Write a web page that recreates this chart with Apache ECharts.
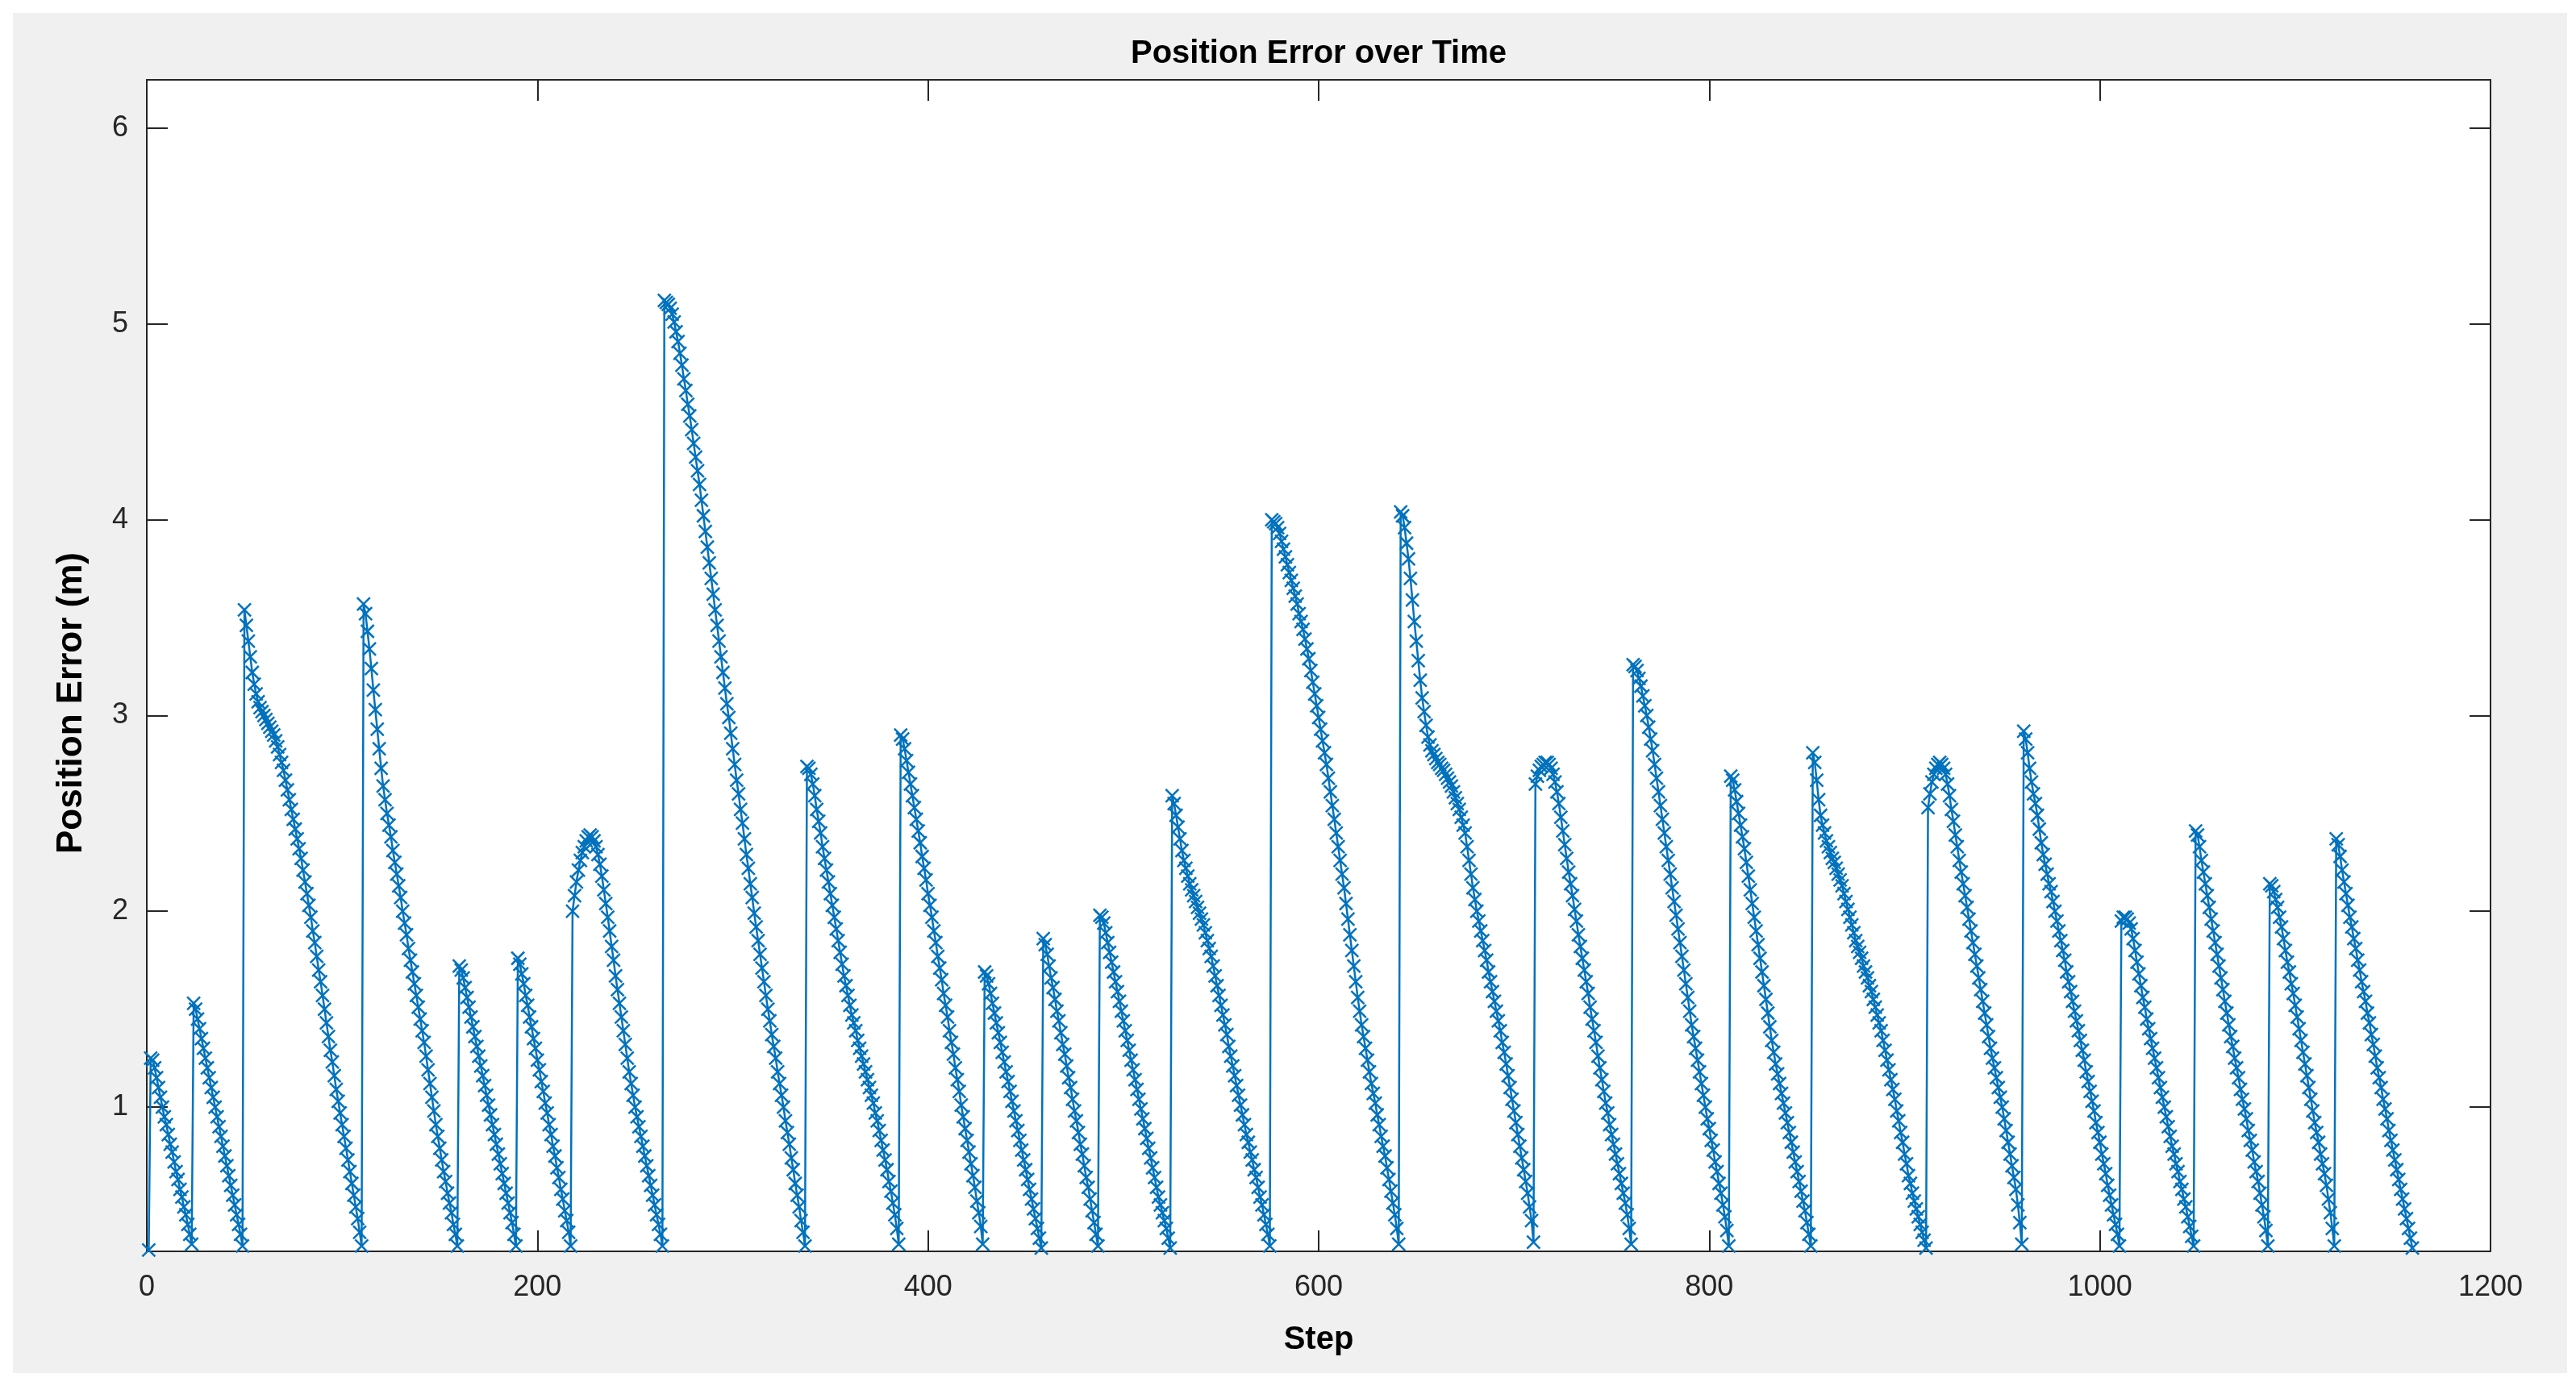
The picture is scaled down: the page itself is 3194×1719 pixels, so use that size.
<!DOCTYPE html>
<html>
<head>
<meta charset="utf-8">
<script src="https://cdn.jsdelivr.net/npm/echarts@6/dist/echarts.min.js"></script>
<style>
html,body{margin:0;padding:0;background:#ffffff;}
#bg{position:absolute;left:16px;top:16px;width:3167px;height:1687px;background:#f0f0f0;}
#chart{position:absolute;left:0;top:0;width:3194px;height:1719px;}
</style>
</head>
<body>
<div id="bg"></div>
<div id="chart"></div>
<script>
// ---- data: position error per step (step index starts at 1) ----
const titleText = "Position Error over Time";
const xLabel = "Step";
const yLabel = "Position Error (m)";
const xTicks = [0, 200, 400, 600, 800, 1000, 1200];
const yTicks = [1, 2, 3, 4, 5, 6];
const yRange = [0.263, 6.247];

const start = [0.27];
const seg01 = [1.25,1.24,1.20,1.15,1.10,1.05,1.00,0.95,0.91,0.86,0.81,0.77,0.72,0.67,0.63,0.58,0.54,0.49,0.45,0.40,0.35,0.30];
const seg02 = [1.53,1.50,1.45,1.40,1.35,1.30,1.25,1.20,1.15,1.10,1.05,1.00,0.95,0.90,0.85,0.80,0.75,0.70,0.65,0.60,0.55,0.50,0.45,0.40,0.35,0.29];
const seg03 = [3.54,3.46,3.38,3.30,3.22,3.16,3.11,3.07,3.04,3.02,3.00,2.98,2.96,2.94,2.92,2.90,2.87,2.84,2.80,2.76,2.72,2.67,2.62,2.57,2.52,2.47,2.42,2.37,2.32,2.27,2.21,2.15,2.09,2.03,1.97,1.90,1.84,1.77,1.70,1.64,1.57,1.50,1.43,1.36,1.29,1.23,1.16,1.09,1.03,0.97,0.91,0.85,0.79,0.73,0.67,0.61,0.55,0.49,0.43,0.36,0.29];
const seg04 = [3.57,3.52,3.43,3.34,3.24,3.13,3.03,2.93,2.83,2.73,2.64,2.57,2.50,2.44,2.38,2.31,2.25,2.19,2.13,2.07,2.00,1.94,1.88,1.81,1.75,1.69,1.63,1.57,1.51,1.45,1.39,1.33,1.26,1.19,1.12,1.05,0.98,0.91,0.85,0.79,0.73,0.67,0.62,0.56,0.51,0.46,0.40,0.35,0.29];
const seg05 = [1.72,1.70,1.66,1.61,1.56,1.51,1.46,1.41,1.36,1.31,1.26,1.21,1.16,1.11,1.06,1.01,0.96,0.91,0.86,0.81,0.76,0.71,0.66,0.61,0.56,0.51,0.46,0.41,0.35,0.29];
const seg06 = [1.76,1.73,1.68,1.63,1.57,1.52,1.46,1.41,1.35,1.30,1.24,1.19,1.13,1.08,1.02,0.97,0.91,0.86,0.80,0.75,0.69,0.64,0.58,0.53,0.47,0.42,0.36,0.29];
const seg07 = [2.00,2.08,2.15,2.21,2.26,2.30,2.33,2.36,2.38,2.39,2.38,2.36,2.33,2.29,2.24,2.18,2.11,2.04,1.97,1.90,1.82,1.75,1.67,1.60,1.53,1.46,1.39,1.32,1.25,1.18,1.12,1.06,1.00,0.95,0.90,0.85,0.80,0.75,0.70,0.65,0.60,0.55,0.50,0.45,0.40,0.35,0.29];
const seg08 = [5.12,5.11,5.10,5.08,5.05,5.01,4.96,4.91,4.85,4.79,4.72,4.66,4.59,4.53,4.46,4.39,4.32,4.25,4.18,4.10,4.02,3.94,3.86,3.78,3.70,3.62,3.54,3.46,3.38,3.30,3.22,3.14,3.06,2.99,2.91,2.83,2.75,2.67,2.60,2.52,2.45,2.37,2.29,2.22,2.14,2.07,1.99,1.92,1.85,1.78,1.71,1.64,1.57,1.50,1.44,1.37,1.31,1.25,1.18,1.12,1.06,1.00,0.93,0.87,0.81,0.74,0.68,0.61,0.55,0.49,0.42,0.36,0.29];
const seg09 = [2.74,2.73,2.70,2.65,2.59,2.52,2.46,2.40,2.33,2.27,2.21,2.15,2.09,2.03,1.97,1.91,1.85,1.79,1.73,1.67,1.62,1.57,1.52,1.47,1.43,1.39,1.34,1.30,1.26,1.22,1.18,1.14,1.10,1.06,1.02,0.97,0.93,0.88,0.83,0.78,0.73,0.68,0.62,0.57,0.51,0.45,0.38,0.30];
const seg10 = [2.90,2.88,2.83,2.77,2.71,2.65,2.59,2.53,2.47,2.41,2.35,2.28,2.22,2.16,2.09,2.03,1.97,1.90,1.84,1.77,1.71,1.65,1.58,1.52,1.46,1.39,1.33,1.27,1.20,1.14,1.08,1.01,0.95,0.89,0.83,0.77,0.71,0.65,0.59,0.52,0.46,0.39,0.30];
const seg11 = [1.69,1.67,1.63,1.58,1.53,1.48,1.43,1.38,1.33,1.28,1.23,1.18,1.13,1.08,1.03,0.98,0.93,0.88,0.83,0.78,0.73,0.68,0.63,0.58,0.53,0.48,0.43,0.38,0.33,0.28];
const seg12 = [1.86,1.83,1.78,1.72,1.66,1.61,1.55,1.49,1.44,1.38,1.32,1.27,1.21,1.15,1.10,1.04,0.98,0.93,0.87,0.81,0.76,0.70,0.64,0.59,0.53,0.47,0.41,0.35,0.29];
const seg13 = [1.98,1.97,1.94,1.89,1.84,1.79,1.74,1.69,1.64,1.59,1.54,1.49,1.44,1.39,1.34,1.29,1.24,1.19,1.14,1.09,1.04,0.99,0.94,0.89,0.84,0.79,0.74,0.69,0.64,0.59,0.54,0.50,0.46,0.42,0.38,0.33,0.28];
const seg14 = [2.59,2.55,2.49,2.43,2.37,2.31,2.26,2.22,2.18,2.14,2.11,2.08,2.05,2.02,1.99,1.96,1.93,1.89,1.85,1.81,1.77,1.72,1.67,1.62,1.57,1.52,1.47,1.42,1.37,1.31,1.26,1.21,1.16,1.11,1.06,1.01,0.96,0.91,0.86,0.82,0.77,0.73,0.68,0.64,0.59,0.54,0.50,0.45,0.40,0.35,0.29];
const seg15 = [4.00,3.99,3.98,3.96,3.93,3.89,3.85,3.81,3.77,3.73,3.69,3.65,3.61,3.57,3.52,3.48,3.44,3.39,3.34,3.29,3.23,3.17,3.11,3.05,2.99,2.93,2.87,2.81,2.75,2.68,2.61,2.54,2.47,2.40,2.33,2.26,2.19,2.12,2.04,1.96,1.88,1.80,1.72,1.64,1.56,1.49,1.42,1.36,1.30,1.24,1.18,1.12,1.07,1.02,0.96,0.91,0.85,0.80,0.75,0.69,0.63,0.57,0.51,0.45,0.38,0.30];
const seg16 = [4.04,4.02,3.96,3.88,3.80,3.70,3.59,3.48,3.38,3.28,3.18,3.09,3.02,2.95,2.89,2.85,2.82,2.80,2.78,2.76,2.75,2.73,2.72,2.70,2.68,2.66,2.64,2.61,2.58,2.55,2.52,2.48,2.44,2.40,2.33,2.26,2.19,2.12,2.06,2.00,1.95,1.90,1.85,1.80,1.75,1.69,1.64,1.59,1.54,1.49,1.44,1.39,1.33,1.28,1.22,1.16,1.10,1.04,0.98,0.92,0.86,0.80,0.74,0.68,0.62,0.56,0.49,0.42,0.31];
const seg17 = [2.65,2.69,2.72,2.74,2.75,2.76,2.76,2.75,2.73,2.70,2.66,2.61,2.55,2.48,2.41,2.34,2.27,2.20,2.14,2.08,2.01,1.95,1.88,1.82,1.76,1.70,1.64,1.58,1.51,1.45,1.39,1.33,1.26,1.20,1.14,1.08,1.02,0.97,0.91,0.86,0.81,0.76,0.71,0.66,0.61,0.56,0.51,0.45,0.38,0.30];
const seg18 = [3.26,3.25,3.23,3.19,3.15,3.10,3.05,3.00,2.94,2.88,2.82,2.75,2.68,2.61,2.54,2.47,2.40,2.33,2.26,2.19,2.12,2.05,1.98,1.91,1.84,1.77,1.70,1.63,1.56,1.49,1.42,1.36,1.30,1.24,1.18,1.12,1.06,1.00,0.94,0.89,0.83,0.78,0.72,0.67,0.61,0.56,0.50,0.44,0.37,0.29];
const seg19 = [2.69,2.67,2.62,2.56,2.50,2.44,2.38,2.32,2.25,2.18,2.11,2.04,1.97,1.90,1.83,1.76,1.69,1.62,1.55,1.48,1.41,1.34,1.28,1.22,1.17,1.12,1.07,1.02,0.97,0.92,0.87,0.82,0.77,0.72,0.67,0.62,0.57,0.52,0.47,0.41,0.35,0.29];
const seg20 = [2.81,2.76,2.67,2.57,2.49,2.44,2.40,2.36,2.33,2.30,2.27,2.25,2.22,2.19,2.16,2.13,2.09,2.05,2.01,1.97,1.93,1.89,1.85,1.82,1.79,1.76,1.72,1.69,1.66,1.62,1.59,1.55,1.51,1.47,1.43,1.39,1.34,1.29,1.24,1.19,1.14,1.09,1.04,0.98,0.93,0.87,0.82,0.76,0.71,0.65,0.61,0.56,0.52,0.48,0.44,0.40,0.36,0.32,0.28];
const seg21 = [2.53,2.60,2.66,2.70,2.73,2.75,2.76,2.75,2.73,2.70,2.65,2.59,2.52,2.46,2.39,2.33,2.26,2.20,2.14,2.08,2.02,1.96,1.90,1.84,1.78,1.72,1.66,1.60,1.54,1.48,1.42,1.36,1.30,1.25,1.20,1.15,1.10,1.05,1.00,0.94,0.88,0.82,0.76,0.70,0.64,0.58,0.50,0.41,0.30];
const seg22 = [2.92,2.88,2.81,2.73,2.66,2.60,2.55,2.49,2.42,2.35,2.29,2.24,2.19,2.14,2.10,2.05,2.00,1.95,1.90,1.85,1.80,1.75,1.69,1.64,1.59,1.54,1.49,1.44,1.39,1.34,1.29,1.24,1.18,1.13,1.08,1.03,0.98,0.92,0.87,0.82,0.76,0.71,0.66,0.60,0.55,0.50,0.45,0.40,0.35,0.29];
const seg23 = [1.95,1.97,1.97,1.96,1.94,1.91,1.86,1.80,1.74,1.68,1.62,1.56,1.51,1.45,1.40,1.35,1.30,1.25,1.20,1.15,1.10,1.05,1.00,0.95,0.90,0.85,0.80,0.76,0.71,0.67,0.62,0.58,0.53,0.49,0.44,0.39,0.34,0.29];
const seg24 = [2.41,2.39,2.33,2.26,2.20,2.14,2.08,2.02,1.96,1.90,1.84,1.78,1.72,1.66,1.60,1.54,1.48,1.42,1.36,1.31,1.25,1.20,1.15,1.09,1.04,0.99,0.94,0.88,0.83,0.78,0.72,0.67,0.62,0.56,0.50,0.44,0.37,0.29];
const seg25 = [2.14,2.13,2.10,2.06,2.02,1.97,1.92,1.86,1.80,1.74,1.69,1.63,1.58,1.52,1.46,1.40,1.34,1.28,1.22,1.16,1.10,1.04,0.98,0.92,0.87,0.82,0.76,0.71,0.66,0.60,0.53,0.46,0.38,0.29];
const seg26 = [2.37,2.34,2.28,2.21,2.15,2.09,2.03,1.97,1.92,1.86,1.81,1.75,1.70,1.64,1.59,1.54,1.48,1.43,1.37,1.32,1.26,1.20,1.15,1.10,1.04,0.99,0.94,0.88,0.83,0.78,0.73,0.68,0.63,0.58,0.53,0.48,0.43,0.38,0.33,0.28];

const segments = [start, seg01, seg02, seg03, seg04, seg05, seg06, seg07, seg08, seg09, seg10, seg11, seg12, seg13,
  seg14, seg15, seg16, seg17, seg18, seg19, seg20, seg21, seg22, seg23, seg24, seg25, seg26];
const errorValues = [].concat(...segments);
const seriesData = errorValues.map((v, i) => [i + 1, v]);

const AX = '#262626';
const FONT = '"Liberation Sans", Arial, Helvetica, sans-serif';
const tickStyle = { show: true, inside: true, length: 26, lineStyle: { color: AX, width: 2 } };
const yTickStyle = Object.assign({ customValues: yTicks }, tickStyle);
const lineStyleAx = { show: true, onZero: false, lineStyle: { color: AX, width: 2 } };

const chart = echarts.init(document.getElementById('chart'), null, { renderer: 'canvas' });
chart.setOption({
  animation: false,
  backgroundColor: 'transparent',
  grid: { left: 182, right: 106, top: 99, bottom: 167, show: true, backgroundColor: '#ffffff', borderWidth: 0 },
  xAxis: [
    { type: 'value', position: 'bottom', min: xTicks[0], max: xTicks[xTicks.length - 1], interval: 200,
      axisLine: lineStyleAx, axisTick: tickStyle, splitLine: { show: false },
      axisLabel: { fontSize: 36, color: AX, margin: 27, fontFamily: FONT, formatter: v => String(v) },
      name: xLabel, nameLocation: 'middle', nameGap: 90,
      nameTextStyle: { fontSize: 40, fontWeight: 'bold', color: '#000', fontFamily: FONT } },
    { type: 'value', position: 'top', min: xTicks[0], max: xTicks[xTicks.length - 1], interval: 200,
      axisLine: lineStyleAx, axisTick: tickStyle, splitLine: { show: false }, axisLabel: { show: false } }
  ],
  yAxis: [
    { type: 'value', position: 'left', min: yRange[0], max: yRange[1],
      axisLine: lineStyleAx, splitLine: { show: false }, axisTick: yTickStyle,
      axisLabel: { customValues: yTicks, fontSize: 36, color: AX, margin: 23, fontFamily: FONT } },
    { type: 'value', position: 'right', min: yRange[0], max: yRange[1],
      axisLine: lineStyleAx, splitLine: { show: false }, axisTick: yTickStyle,
      axisLabel: { show: false } }
  ],
  graphic: [
    { type: 'text', x: 1635, y: 67, z: 10,
      style: { text: titleText, fill: '#000', font: 'bold 40px ' + FONT, textAlign: 'center', textVerticalAlign: 'middle', align: 'center', verticalAlign: 'middle' } },
    { type: 'text', x: 89, y: 872, rotation: Math.PI / 2, z: 10,
      style: { text: yLabel, fill: '#000', font: 'bold 44px ' + FONT, textAlign: 'center', textVerticalAlign: 'middle', align: 'center', verticalAlign: 'middle' } }
  ],
  series: [{
    type: 'line',
    data: seriesData,
    xAxisIndex: 0, yAxisIndex: 0,
    showSymbol: true, showAllSymbol: true,
    symbol: 'path://M0,0L10,10M10,0L0,10',
    symbolSize: 16,
    lineStyle: { color: '#0072BD', width: 2.5 },
    itemStyle: { color: '#0072BD', borderColor: '#0072BD', borderWidth: 2.5 },
    emphasis: { disabled: true }
  }]
});
</script>
</body>
</html>
